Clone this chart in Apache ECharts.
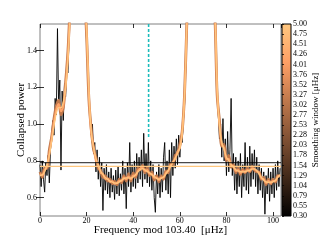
<!DOCTYPE html>
<html><head><meta charset="utf-8">
<script src="https://cdn.jsdelivr.net/npm/echarts@6/dist/echarts.min.js"></script>
<style>html,body{margin:0;padding:0;background:#fff}#c{width:320px;height:240px}</style>
</head><body><div id="c"></div>
<script>
// ---- data ----
const freqStep = 0.5; // raw spectrum sampling, muHz
const rawPower = [
 0.78,0.66,0.80,0.70,0.63,0.79,0.72,0.83,0.68,0.86,
 0.86,1.02,0.94,1.14,1.05,1.52,1.10,1.24,0.75,1.18,
 1.02,1.22,1.15,1.30,1.28,1.50,1.65,1.95,2.10,2.30,
 2.40,2.35,2.50,2.40,2.30,2.20,2.00,1.85,1.75,1.58,
 1.45,1.36,1.10,1.08,0.94,1.00,0.84,0.90,0.74,0.86,
 0.70,0.82,0.66,0.79,0.53,0.76,0.64,0.78,0.62,0.74,
 0.60,0.76,0.63,0.72,0.59,0.75,0.62,0.77,0.61,0.73,
 0.64,0.80,0.62,0.76,0.54,0.79,0.66,0.90,0.63,0.78,
 0.66,0.80,0.65,0.84,0.68,0.82,0.70,0.86,0.66,0.95,
 0.70,0.84,0.68,0.90,0.66,0.80,0.64,0.78,0.60,0.52,
 0.74,0.62,0.78,0.60,0.76,0.63,0.82,0.90,0.64,0.80,
 0.62,0.86,0.60,0.90,0.72,0.88,0.76,0.92,0.78,0.94,
 0.82,0.92,0.90,1.02,1.10,1.30,1.55,1.75,1.90,2.10,
 2.30,2.45,2.60,2.70,2.80,2.85,2.90,2.90,2.95,2.90,
 2.80,2.70,2.50,2.35,2.20,2.05,1.90,1.80,1.65,1.55,
 1.60,1.40,1.15,1.05,0.92,1.00,0.82,1.03,0.80,0.92,
 0.72,0.96,0.74,0.86,1.14,0.72,0.84,0.64,0.82,0.62,
 0.80,0.66,0.84,0.60,0.78,0.66,0.90,0.64,0.82,0.62,
 0.88,0.66,0.84,0.70,0.86,0.66,0.82,0.62,0.78,0.64,
 0.76,0.60,0.74,0.51,0.72,0.62,0.76,0.58,0.74,0.62,
 0.76,0.60,0.78,0.64,0.80,0.66,0.76
];
const smoothStep = 1; // smoothed curves sampling, muHz
const smoothW25 = [
 0.74,0.71,0.76,0.76,0.86,0.93,1.03,1.10,1.13,1.05,
 1.09,1.23,1.40,1.68,2.0,2.3,2.4,2.3,2.0,1.75,
 1.48,1.13,0.97,0.86,0.82,0.76,0.75,0.71,0.72,0.69,
 0.70,0.675,0.69,0.67,0.70,0.68,0.72,0.69,0.73,0.69,
 0.735,0.71,0.76,0.75,0.775,0.735,0.765,0.72,0.74,0.695,
 0.72,0.685,0.72,0.70,0.745,0.735,0.785,0.78,0.83,0.84,
 0.89,0.96,1.16,1.55,1.9,2.3,2.6,2.8,2.9,2.9,
 2.8,2.5,2.2,1.9,1.75,1.6,1.16,1.02,0.88,0.89,
 0.80,0.83,0.765,0.78,0.735,0.76,0.725,0.755,0.735,0.76,
 0.74,0.77,0.75,0.74,0.74,0.70,0.71,0.67,0.70,0.675,
 0.70,0.685,0.72,0.715
];
const smoothW38 = [
 0.73,0.72,0.75,0.77,0.84,0.92,1.01,1.08,1.11,1.07,
 1.10,1.21,1.38,1.65,2.0,2.3,2.4,2.3,2.0,1.75,
 1.50,1.15,0.95,0.88,0.80,0.78,0.735,0.73,0.70,0.705,
 0.685,0.69,0.675,0.68,0.69,0.69,0.71,0.70,0.715,0.70,
 0.72,0.72,0.745,0.76,0.762,0.745,0.75,0.73,0.728,0.708,
 0.71,0.695,0.71,0.71,0.735,0.745,0.775,0.795,0.81,0.85,
 0.87,0.96,1.15,1.55,1.9,2.3,2.6,2.8,2.9,2.9,
 2.8,2.5,2.2,1.9,1.75,1.62,1.18,1.0,0.89,0.87,
 0.81,0.81,0.775,0.77,0.745,0.75,0.735,0.745,0.74,0.75,
 0.745,0.76,0.755,0.745,0.735,0.705,0.70,0.68,0.69,0.68,
 0.69,0.69,0.715,0.72
];
const smoothW50 = [
 0.72,0.725,0.74,0.78,0.83,0.91,0.99,1.06,1.09,1.09,
 1.12,1.2,1.36,1.62,2.0,2.3,2.4,2.3,2.0,1.75,
 1.52,1.17,0.96,0.87,0.815,0.775,0.745,0.725,0.71,0.70,
 0.69,0.685,0.68,0.678,0.685,0.695,0.703,0.708,0.707,0.706,
 0.712,0.725,0.74,0.752,0.758,0.752,0.742,0.735,0.725,0.715,
 0.705,0.70,0.705,0.712,0.728,0.748,0.77,0.79,0.815,0.84,
 0.87,0.95,1.15,1.55,1.9,2.3,2.6,2.8,2.9,2.9,
 2.8,2.5,2.2,1.9,1.75,1.62,1.2,0.99,0.9,0.86,
 0.82,0.80,0.78,0.765,0.752,0.745,0.742,0.74,0.742,0.746,
 0.75,0.755,0.757,0.748,0.728,0.71,0.695,0.686,0.683,0.684,
 0.686,0.695,0.71,0.725
];
const xRange = [0, 103.4];
const xTickStep = 20;
const yRange = [0.5, 1.545];
const yTickValues = [0.6, 0.8, 1.0, 1.2, 1.4];
const cbTickLabels = ['0.30','0.55','0.79','1.04','1.29','1.54','1.78','2.03','2.28','2.53',
 '2.77','3.02','3.27','3.52','3.76','4.01','4.26','4.51','4.75','5.00'];
const meanLevelRaw = 0.79;
const meanLevelSmooth = 0.77;
const markerFreq = 46.6;
const markerFrom = 0.93;

// ---- chart ----
const toPairs = (arr, step) => arr.map((v, i) => [+(i * step).toFixed(3), v]);
const serif = 'Liberation Serif';
const chart = echarts.init(document.getElementById('c'), null, {renderer: 'canvas'});
const copper = t => 'rgb(' + Math.round(255*Math.min(1,1.25*t)) + ',' + Math.round(255*0.7812*t) + ',' + Math.round(255*0.4975*t) + ')';

chart.setOption({
  animation: false,
  backgroundColor: '#fff',
  grid: [
    {left: 40, top: 24, width: 241, height: 192, show: true, borderColor: '#808080', borderWidth: 1,
     containLabel: false, outerBoundsMode: 'none'},
    {left: 282, top: 24, width: 9, height: 192, show: true, borderColor: '#000', borderWidth: 1,
     containLabel: false, outerBoundsMode: 'none',
     backgroundColor: new echarts.graphic.LinearGradient(0, 0, 0, 1, [
       {offset: 0, color: copper(1)}, {offset: 0.2, color: copper(0.8)}, {offset: 0.4, color: copper(0.6)},
       {offset: 0.6, color: copper(0.4)}, {offset: 0.8, color: copper(0.2)}, {offset: 1, color: copper(0)}])}
  ],
  xAxis: [
    {gridIndex: 0, type: 'value', min: xRange[0], max: xRange[1], interval: xTickStep,
     axisLine: {show: false}, splitLine: {show: false},
     axisTick: {inside: true, length: 4, lineStyle: {color: '#000', width: 0.8}},
     axisLabel: {fontFamily: serif, fontSize: 8, color: '#000', margin: 1, showMaxLabel: false},
     name: 'Frequency mod 103.40  [\u03bcHz]', nameLocation: 'middle', nameGap: 9, nameMoveOverlap: false,
     nameTextStyle: {fontFamily: serif, fontSize: 11, color: '#000'}},
    {gridIndex: 0, type: 'value', position: 'top', min: xRange[0], max: xRange[1], interval: xTickStep,
     axisLine: {show: false}, splitLine: {show: false}, axisLabel: {show: false},
     axisTick: {inside: true, length: 4, lineStyle: {color: '#000', width: 0.8}}},
    {gridIndex: 1, type: 'value', min: 0, max: 1, show: false}
  ],
  yAxis: [
    {gridIndex: 0, type: 'value', min: yRange[0], max: yRange[1],
     axisLine: {show: false}, splitLine: {show: false},
     axisTick: {inside: true, length: 4, customValues: yTickValues, lineStyle: {color: '#000', width: 0.8}},
     axisLabel: {fontFamily: serif, fontSize: 8, color: '#000', margin: 3, customValues: yTickValues,
       formatter: v => v.toFixed(1)},
     name: 'Collapsed power', nameLocation: 'middle', nameGap: 13, nameMoveOverlap: false,
     nameTextStyle: {fontFamily: serif, fontSize: 11, color: '#000'}},
    {gridIndex: 0, type: 'value', position: 'right', min: yRange[0], max: yRange[1],
     axisLine: {show: false}, splitLine: {show: false}, axisLabel: {show: false},
     axisTick: {inside: true, length: 4, customValues: yTickValues, lineStyle: {color: '#000', width: 0.8}}},
    {gridIndex: 1, type: 'category', position: 'right', data: cbTickLabels, boundaryGap: false,
     axisLine: {show: false}, splitLine: {show: false},
     axisTick: {show: true, inside: false, length: 2, interval: 0, lineStyle: {color: '#000', width: 0.8}},
     axisLabel: {fontFamily: serif, fontSize: 8, color: '#000', margin: 2, interval: 0},
     name: 'Smoothing window [\u03bcHz]', nameLocation: 'middle', nameGap: 20, nameRotate: 90, nameMoveOverlap: false,
     nameTextStyle: {fontFamily: serif, fontSize: 9, color: '#000'}}
  ],
  series: [
    {type: 'line', xAxisIndex: 0, yAxisIndex: 0, data: toPairs(rawPower, freqStep), showSymbol: false,
     lineStyle: {color: '#000', width: 0.9}, clip: true, z: 2},
    {type: 'line', xAxisIndex: 0, yAxisIndex: 0, data: toPairs(smoothW25, smoothStep), showSymbol: false, smooth: 0.3,
     lineStyle: {color: copper(0.6), width: 2.8}, clip: true, z: 3},
    {type: 'line', xAxisIndex: 0, yAxisIndex: 0, data: toPairs(smoothW38, smoothStep), showSymbol: false, smooth: 0.3,
     lineStyle: {color: copper(0.82), width: 2.0}, clip: true, z: 4},
    {type: 'line', xAxisIndex: 0, yAxisIndex: 0, data: toPairs(smoothW50, smoothStep), showSymbol: false, smooth: 0.3,
     lineStyle: {color: copper(1), width: 1.3}, clip: true, z: 5},
    {type: 'line', xAxisIndex: 0, yAxisIndex: 0, data: [[xRange[0], meanLevelRaw], [xRange[1], meanLevelRaw]],
     showSymbol: false, lineStyle: {color: '#000', width: 0.9}, z: 6},
    {type: 'line', xAxisIndex: 0, yAxisIndex: 0, data: [[xRange[0], meanLevelSmooth], [xRange[1], meanLevelSmooth]],
     showSymbol: false, lineStyle: {color: copper(1), width: 1.2}, z: 6},
    {type: 'line', xAxisIndex: 0, yAxisIndex: 0, data: [[markerFreq, markerFrom], [markerFreq, yRange[1]]],
     showSymbol: false, lineStyle: {color: '#1cbcbc', width: 1.6, type: [3, 2]}, z: 7}
  ]
});
</script></body></html>
